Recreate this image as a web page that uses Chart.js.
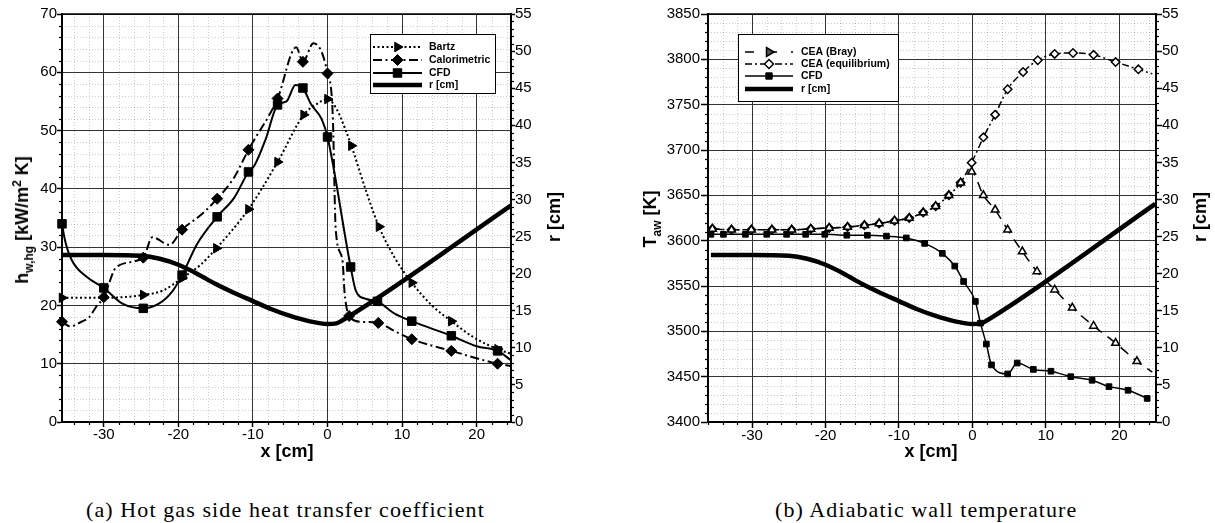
<!DOCTYPE html>
<html>
<head>
<meta charset="utf-8">
<script src="https://cdn.jsdelivr.net/npm/chart.js@4.4.1/dist/chart.umd.min.js"></script>
<style>
body { margin: 0; background: #fff; width: 1215px; height: 523px; position: relative; overflow: hidden; font-family: "Liberation Sans", Arial, sans-serif; }
canvas { position: absolute; top: 0; }
#chartA { left: 0; }
#chartB { left: 600px; }
.t { position: absolute; font-weight: bold; font-size: 18px; white-space: nowrap; line-height: 20px; transform: translate(-50%, -50%); }
.rot { transform: translate(-50%, -50%) rotate(-90deg); }
.cap { position: absolute; font-family: "Liberation Serif", serif; font-size: 22px; line-height: 24px; white-space: nowrap; letter-spacing: 1.1px; }
sub, sup { font-size: 12px; line-height: 0; }
</style>
</head>
<body>
<canvas id="chartA" width="560" height="470"></canvas>
<canvas id="chartB" width="615" height="470"></canvas>

<div class="t rot" style="left:22px;top:220px">h<sub>w,hg</sub> [kW/m<sup>2</sup> K]</div>
<div class="t" style="left:287px;top:451px">x [cm]</div>
<div class="t rot" style="left:554px;top:217px">r [cm]</div>
<div class="t rot" style="left:650px;top:219px">T<sub>aw</sub> [K]</div>
<div class="t" style="left:931px;top:451px">x [cm]</div>
<div class="t rot" style="left:1200px;top:217px">r [cm]</div>
<div class="cap" style="left:86px;top:498px">(a) Hot gas side heat transfer coefficient</div>
<div class="cap" style="left:775px;top:498px">(b) Adiabatic wall temperature</div>

<script>
// tick labels
const xTicks = [-30, -20, -10, 0, 10, 20];
const hTicks = [0, 10, 20, 30, 40, 50, 60, 70];
const rTicks = [0, 5, 10, 15, 20, 25, 30, 35, 40, 45, 50, 55];
const tTicks = [3400, 3450, 3500, 3550, 3600, 3650, 3700, 3750, 3800, 3850];

// nozzle contour r [cm] (same on both plots)
const contourX = [-35.6, -30, -25, -22.5, -20, -17.5, -15, -12.5, -10, -7.5, -5, -2.5, 0, 1.2, 2.5, 24.9];
const contourR = [22.5, 22.5, 22.4, 22.0, 21.2, 20.0, 18.6, 17.4, 16.3, 15.2, 14.3, 13.6, 13.2, 13.3, 14.0, 29.4];

// (a) heat transfer coefficient, markers flagged with 1
const bartzX = [-35.6, -30, -24.7, -22, -19.5, -17, -14.9, -10.6, -6.7, -3.2, -1.5, 0, 1.3, 2.3, 3.2, 5.2, 6.9, 9, 11.3, 14, 16.6, 19.5, 22.8, 24.6];
const bartzH = [21.3, 21.3, 21.8, 22.6, 24.7, 27.0, 29.8, 36.5, 44.6, 52.7, 54.5, 55.4, 53.5, 50.5, 47.4, 39.5, 33.5, 28.2, 23.9, 20.0, 17.3, 14.6, 12.5, 11.7];
const bartzM = [1, 0, 1, 0, 1, 0, 1, 1, 1, 1, 0, 1, 0, 0, 1, 0, 1, 0, 1, 0, 1, 0, 1, 0];

const calX = [-35.6, -34.5, -33, -32, -31, -30, -28.3, -24.7, -23.5, -21.2, -19.5, -17, -14.8, -12.5, -10.6, -6.7, -4.2, -3.3, -1.9, 0, 0.7, 1.1, 2.0, 2.3, 2.9, 4.5, 6.8, 9, 11.3, 16.6, 22.8, 24.6];
const calH = [17.2, 16.4, 17.2, 17.9, 19.8, 21.4, 26.6, 28.2, 31.7, 30.4, 33.0, 35.5, 38.3, 42.0, 46.7, 55.5, 64.3, 61.8, 65.0, 59.8, 52.7, 33.0, 27.8, 22.0, 18.2, 17.2, 17.0, 15.6, 14.2, 12.2, 10.0, 9.6];
const calM = [1, 0, 0, 0, 0, 1, 0, 1, 0, 0, 1, 0, 1, 0, 1, 1, 0, 1, 0, 1, 0, 0, 0, 0, 1, 0, 1, 0, 1, 1, 1, 0];

const cfdAX = [-35.6, -35.2, -34.3, -32.3, -30, -27.5, -24.7, -22.5, -20.7, -19.5, -17.5, -14.8, -12.5, -10.6, -9.8, -8.3, -6.7, -5.5, -4.3, -3.3, -2.2, -0.8, 0, 3.1, 3.8, 5.2, 6.7, 9, 11.3, 16.6, 20, 22.8, 24.6];
const cfdAH = [34.0, 31.2, 27.8, 24.9, 23.0, 20.3, 19.5, 20.4, 22.6, 25.2, 30.5, 35.2, 38.5, 42.9, 44.0, 48.5, 54.4, 55.0, 57.8, 57.3, 54.5, 52.0, 48.9, 26.6, 22.5, 21.1, 20.7, 18.6, 17.3, 14.8, 13.0, 12.2, 10.6];
const cfdAM = [1, 0, 0, 0, 1, 0, 1, 0, 0, 1, 0, 1, 0, 1, 0, 0, 1, 0, 0, 1, 0, 0, 1, 1, 0, 0, 1, 0, 1, 1, 0, 1, 0];

// (b) adiabatic wall temperature
const eqX = [-35.4, -32.8, -30.1, -27.3, -24.6, -22.0, -19.5, -17.0, -14.7, -12.7, -10.6, -8.6, -6.7, -5.0, -3.2, -1.6, -0.1, 1.5, 3.1, 4.8, 6.9, 8.9, 11.2, 13.7, 16.5, 19.5, 22.6, 24.5];
const eqT = [3613, 3612, 3612, 3612, 3612, 3613, 3614, 3615, 3617, 3619, 3622, 3625, 3631, 3638, 3650, 3664, 3686, 3714, 3739, 3767, 3786, 3799, 3806, 3807, 3805, 3797, 3789, 3784];
const eqM = [1, 1, 1, 1, 1, 1, 1, 1, 1, 1, 1, 1, 1, 1, 1, 1, 1, 1, 1, 1, 1, 1, 1, 1, 1, 1, 1, 0];

const brayX = [-35.4, -32.8, -30.1, -27.3, -24.6, -22.0, -19.5, -17.0, -14.7, -12.7, -10.6, -8.6, -6.7, -5.0, -3.2, -1.6, -0.1, 1.5, 3.1, 4.8, 6.8, 8.8, 11.2, 13.6, 16.5, 19.5, 22.4, 24.5];
const brayT = [3613, 3612, 3612, 3612, 3612, 3613, 3614, 3615, 3617, 3619, 3622, 3625, 3631, 3638, 3650, 3664, 3676, 3650, 3634, 3612, 3588, 3566, 3546, 3526, 3506, 3487, 3467, 3455];
const brayM = [1, 1, 1, 1, 1, 1, 1, 1, 1, 1, 1, 1, 1, 1, 1, 1, 1, 1, 1, 1, 1, 1, 1, 1, 1, 1, 1, 0];

const cfdBX = [-35.6, -33.9, -30.9, -28.0, -25.3, -22.7, -20.1, -17.1, -14.3, -11.7, -9.0, -6.5, -4.1, -2.4, -1.2, 0.4, 1.1, 1.9, 2.6, 4.8, 6.1, 8.3, 10.7, 13.4, 16.3, 18.6, 21.2, 23.8];
const cfdBT = [3607, 3607, 3607, 3607, 3607, 3607, 3607, 3606, 3606, 3605, 3603, 3597, 3586, 3572, 3555, 3533, 3509, 3486, 3463, 3453, 3465, 3458, 3456, 3450, 3446, 3439, 3435, 3426];

const FONT = '"Liberation Sans", Arial, sans-serif';

function pts(xs, ys) { return xs.map((x, i) => ({ x: x, y: ys[i] })); }
function radii(marks, r) { return marks.map(m => m ? r : 0); }
function fixedTicks(vals) { return s => { s.ticks = vals.map(v => ({ value: v })); }; }

function line(ctx, x1, y1, x2, y2) { ctx.beginPath(); ctx.moveTo(x1, y1); ctx.lineTo(x2, y2); ctx.stroke(); }

function minorVals(s, step, major) {
    const out = [];
    for (let v = Math.ceil(s.min / step) * step; v <= s.max + 1e-9; v += step) {
        const r = Math.round(v * 1000) / 1000;
        if (Math.abs(r % major) > 1e-6) out.push(r);
    }
    return out;
}

// minor grid + ticks, top frame, boxed legend
const decor = {
    id: 'decor',
    beforeDatasetsDraw(chart, args, o) {
        const { ctx, chartArea: a, scales } = chart;
        ctx.save();
        ctx.strokeStyle = 'rgba(0,0,0,0.2)';
        ctx.lineWidth = 1;
        ctx.setLineDash([1, 2]);
        const xm = minorVals(scales.x, o.xStep, o.xMajor);
        const ym = minorVals(scales.y, o.yStep, o.yMajor);
        xm.forEach(v => { const p = Math.round(scales.x.getPixelForValue(v)) + 0.5; line(ctx, p, a.top, p, a.bottom); });
        ym.forEach(v => { const p = Math.round(scales.y.getPixelForValue(v)) + 0.5; line(ctx, a.left, p, a.right, p); });
        ctx.setLineDash([]);
        ctx.strokeStyle = '#000';
        ctx.lineWidth = 1.2;
        xm.forEach(v => { const p = Math.round(scales.x.getPixelForValue(v)) + 0.5; line(ctx, p, a.bottom, p, a.bottom + o.minorLen); });
        ym.forEach(v => { const p = Math.round(scales.y.getPixelForValue(v)) + 0.5; line(ctx, a.left - o.minorLen, p, a.left, p); });
        minorVals(scales.yr, o.rStep, o.rMajor).forEach(v => { const p = Math.round(scales.yr.getPixelForValue(v)) + 0.5; line(ctx, a.right, p, a.right + o.minorLen, p); });
        ctx.restore();
    },
    afterDraw(chart, args, o) {
        const { ctx, chartArea: a } = chart;
        ctx.save();
        ctx.strokeStyle = '#000';
        ctx.lineWidth = 1.6;
        line(ctx, a.left - 1, a.top, a.right + 1, a.top);

        const L = o.legend;
        ctx.fillStyle = '#fff';
        ctx.fillRect(L.x, L.y, L.w, L.h);
        ctx.lineWidth = 1;
        ctx.strokeRect(L.x + 0.5, L.y + 0.5, L.w, L.h);
        chart.data.datasets.forEach((d, i) => {
            const y = L.rows[i];
            ctx.strokeStyle = d.borderColor;
            ctx.lineWidth = d.borderWidth;
            ctx.setLineDash(d.legendDash || d.borderDash || []);
            line(ctx, L.x1, y, L.x2, y);
            ctx.setLineDash([]);
            if (d.pointStyle) {
                ctx.fillStyle = d.legendFill || d.pointBackgroundColor || d.backgroundColor;
                ctx.strokeStyle = d.borderColor;
                ctx.lineWidth = d.pointBorderWidth;
                Chart.helpers.drawPoint(ctx, {
                    pointStyle: d.pointStyle, rotation: d.legendRotation !== undefined ? d.legendRotation : d.rotation,
                    radius: d.legendRadius, borderWidth: d.pointBorderWidth
                }, (L.x1 + L.x2) / 2, y);
            }
            ctx.fillStyle = '#000';
            ctx.font = L.font;
            ctx.textBaseline = 'middle';
            ctx.fillText(d.label, L.tx, y + 0.5);
        });
        ctx.restore();
    }
};

function axes(xMin, xMax, yMin, yMax, yVals, widths, tl) {
    const tickFont = { family: FONT, size: 15 };
    const gridCommon = { color: '#333', lineWidth: 1, tickColor: '#000', tickWidth: 1.5 };
    return {
        x: {
            type: 'linear', min: xMin, max: xMax,
            afterBuildTicks: fixedTicks(xTicks),
            afterFit: s => { s.height = 48; },
            ticks: { font: tickFont, color: '#000', padding: -1, maxRotation: 0, autoSkip: false, callback: v => String(v) },
            grid: Object.assign({ tickLength: tl.x }, gridCommon),
            border: { color: '#000', width: 2 }
        },
        y: {
            type: 'linear', position: 'left', min: yMin, max: yMax,
            afterBuildTicks: fixedTicks(yVals),
            afterFit: s => { s.width = widths[0]; },
            ticks: { font: tickFont, color: '#000', padding: tl.yPad, autoSkip: false, callback: v => String(v) },
            grid: Object.assign({ tickLength: tl.y }, gridCommon),
            border: { color: '#000', width: 2 }
        },
        yr: {
            type: 'linear', position: 'right', min: 0, max: 55,
            afterBuildTicks: fixedTicks(rTicks),
            afterFit: s => { s.width = widths[1]; },
            ticks: { font: tickFont, color: '#000', padding: 0, autoSkip: false, callback: v => String(v) },
            grid: { drawOnChartArea: false, tickLength: tl.r, tickColor: '#000', tickWidth: 1.5 },
            border: { color: '#000', width: 2 }
        }
    };
}

const common = {
    responsive: false,
    animation: false,
    events: [],
    layout: { padding: { top: 14, left: 0, right: 0, bottom: 0 } }
};

const contourStyle = {
    label: 'r [cm]', yAxisID: 'yr', showLine: true, borderColor: '#000', borderWidth: 4.5,
    pointRadius: 0, cubicInterpolationMode: 'monotone', clip: 0
};

new Chart(document.getElementById('chartA'), {
    type: 'scatter',
    data: {
        datasets: [
            {
                label: 'Bartz', data: pts(bartzX, bartzH), yAxisID: 'y', showLine: true,
                borderColor: '#000', backgroundColor: '#000', borderWidth: 2, borderDash: [2, 2.5],
                pointStyle: 'triangle', rotation: 90, pointRadius: radii(bartzM, 5.5), pointBorderWidth: 1,
                legendRadius: 5.5, cubicInterpolationMode: 'monotone', clip: 8
            },
            {
                label: 'Calorimetric', data: pts(calX, calH), yAxisID: 'y', showLine: true,
                borderColor: '#000', backgroundColor: '#000', borderWidth: 2, borderDash: [9, 3.5, 2, 3.5],
                pointStyle: 'rectRot', pointRadius: radii(calM, 5.5), pointBorderWidth: 1,
                legendRadius: 5.5, cubicInterpolationMode: 'monotone', clip: 8
            },
            {
                label: 'CFD', data: pts(cfdAX, cfdAH), yAxisID: 'y', showLine: true,
                borderColor: '#000', backgroundColor: '#000', borderWidth: 2,
                pointStyle: 'rect', pointRadius: radii(cfdAM, 6), pointBorderWidth: 1,
                legendRadius: 6, cubicInterpolationMode: 'monotone', clip: 8
            },
            Object.assign({ data: pts(contourX, contourR) }, contourStyle)
        ]
    },
    options: Object.assign({}, common, {
        scales: axes(-35.6, 24.6, 0, 70, hTicks, [62, 49], { x: 5, y: 5, yPad: 0, r: 4 }),
        plugins: {
            legend: { display: false }, tooltip: { enabled: false },
            decor: {
                xStep: 2, xMajor: 10, yStep: 2, yMajor: 10, rStep: 1, rMajor: 5, minorLen: 3,
                legend: { x: 370, y: 34, w: 125, h: 59, x1: 373, x2: 422, tx: 429, rows: [47, 60, 73, 85], font: 'bold 10.5px ' + FONT }
            }
        }
    }),
    plugins: [decor]
});

new Chart(document.getElementById('chartB'), {
    type: 'scatter',
    data: {
        datasets: [
            {
                label: 'CEA (Bray)', data: pts(brayX, brayT), yAxisID: 'y', showLine: true,
                borderColor: '#000', backgroundColor: '#fff', pointBackgroundColor: '#fff', borderWidth: 1.5, borderDash: [10, 7],
                legendDash: [9, 14], legendFill: '#555', pointStyle: 'triangle', rotation: 120, legendRotation: 90,
                pointRadius: radii(brayM, 4.5), pointBorderWidth: 1.5, legendRadius: 5,
                cubicInterpolationMode: 'monotone', clip: 8
            },
            {
                label: 'CEA (equilibrium)', data: pts(eqX, eqT), yAxisID: 'y', showLine: true,
                borderColor: '#000', backgroundColor: '#fff', pointBackgroundColor: '#fff', borderWidth: 1.5, borderDash: [7, 3, 2, 3],
                pointStyle: 'rectRot', pointRadius: radii(eqM, 4.2), pointBorderWidth: 1.5, legendRadius: 4.5,
                cubicInterpolationMode: 'monotone', clip: 8
            },
            {
                label: 'CFD', data: pts(cfdBX, cfdBT), yAxisID: 'y', showLine: true,
                borderColor: '#000', backgroundColor: '#000', borderWidth: 1.5,
                pointStyle: 'rect', pointRadius: 4, pointBorderWidth: 1, legendRadius: 4.5,
                cubicInterpolationMode: 'monotone', clip: 8
            },
            Object.assign({ data: pts(contourX, contourR) }, contourStyle)
        ]
    },
    options: Object.assign({}, common, {
        scales: axes(-36, 25, 3400, 3850, tTicks, [108, 59], { x: 6, y: 7, yPad: 1, r: 6 }),
        plugins: {
            legend: { display: false }, tooltip: { enabled: false },
            decor: {
                xStep: 2, xMajor: 10, yStep: 10, yMajor: 50, rStep: 1, rMajor: 5, minorLen: 3,
                legend: { x: 138, y: 34, w: 160, h: 67, x1: 145, x2: 193, tx: 201, rows: [52, 64, 76, 89], font: 'bold 10.5px ' + FONT }
            }
        }
    }),
    plugins: [decor]
});
</script>
</body>
</html>
